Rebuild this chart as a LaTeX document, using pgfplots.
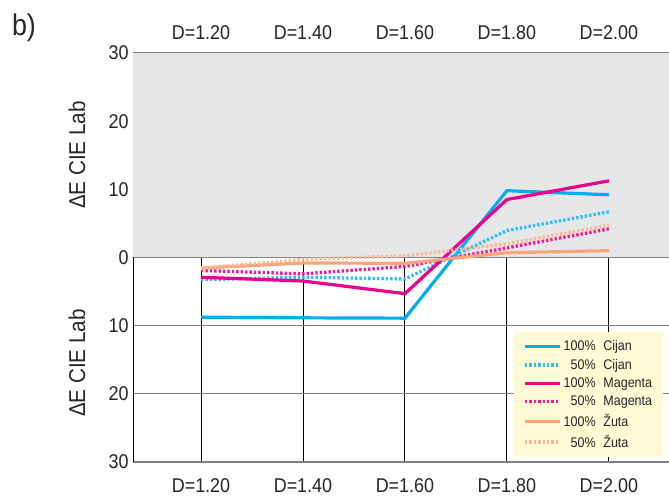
\documentclass[border=0pt]{standalone}
\usepackage{pgfplots}
\pgfplotsset{compat=1.18}
\usepackage{pgfplotstable}
\usepackage{fontspec}
\setmainfont{Liberation Sans}[FakeStretch=0.9]
\definecolor{cyanS}{RGB}{0,174,239}
\definecolor{cyanD}{RGB}{45,190,242}
\definecolor{magS}{RGB}{236,0,140}
\definecolor{magD}{RGB}{238,30,145}
\definecolor{zutS}{RGB}{248,165,125}
\definecolor{zutD}{RGB}{250,185,150}
\definecolor{bgGray}{RGB}{230,231,232}
\definecolor{legY}{RGB}{255,250,214}
\definecolor{gridG}{RGB}{128,128,128}

\pgfplotstableread{
x c100 c50 m100 m50 z100 z50
0 -8.75 -3.25 -2.9 -1.9 -1.55 -1.55
1 -8.85 -2.9 -3.45 -2.4 -0.8 -0.28
2 -8.9 -3.15 -5.3 -1.32 -0.85 0.25
3 9.8 3.95 8.5 1.4 0.7 2.0
4 9.2 6.7 11.25 4.2 1.0 4.75
}\datatab

\begin{document}
\begin{tikzpicture}
\pgfplotsset{
  dotsty/.style={line width=3.3bp, dash pattern=on 2.4bp off 2.0bp},
  solsty/.style={line width=3.2bp},
}
\begin{axis}[
  set layers,
  at={(133bp,38bp)}, anchor=south west,
  scale only axis, width=536bp, height=409bp,
  xmin=-0.667, xmax=4.59, ymin=-30, ymax=30,
  xtick={0,1,2,3,4},
  xticklabels={D=1.20,D=1.40,D=1.60,D=1.80,D=2.00},
  ytick={-30,-20,-10,0,10,20,30},
  yticklabels={30,20,10,0,10,20,30},
  /pgf/number format/assume math mode=true,
  major tick length=0pt,
  axis x line*=bottom, axis y line*=left, separate axis lines,
  x axis line style={draw=none},
  y axis line style={-, black, line width=1bp},
  xmajorgrids, ymajorgrids,
  x grid style={black, line width=0.9bp},
  y grid style={gridG, line width=1.3bp},
  tick label style={font=\fontsize{20}{24}\selectfont, text=black!85},
  xticklabel style={yshift=-13bp},
  yticklabel style={xshift=-1bp},
  clip=false,
  legend style={at={(rel axis cs:0.711,0.012)}, anchor=south west,
    fill=legY, draw=none, font=\fontsize{14}{16}\selectfont,
    inner xsep=9bp, inner ysep=6bp, row sep=3.1bp, text=black!85},
  legend cell align=left,
  legend image code/.code={\draw[#1] (0bp,0bp) -- (35bp,0bp);},
]
\fill[bgGray, on layer=axis background] (axis cs:-0.667,0) rectangle (axis cs:4.59,30);
\addplot[solsty, cyanS] table[x=x,y=c100]{\datatab};
\addlegendentry{\makebox[2.3em][r]{100\%}\hspace{0.55em}Cijan}
\addplot[dotsty, cyanD] table[x=x,y=c50]{\datatab};
\addlegendentry{\makebox[2.3em][r]{50\%}\hspace{0.55em}Cijan}
\addplot[solsty, magS] table[x=x,y=m100]{\datatab};
\addlegendentry{\makebox[2.3em][r]{100\%}\hspace{0.55em}Magenta\hspace{14bp}}
\addplot[dotsty, magD] table[x=x,y=m50]{\datatab};
\addlegendentry{\makebox[2.3em][r]{50\%}\hspace{0.55em}Magenta\hspace{14bp}}
\addplot[solsty, zutS] table[x=x,y=z100]{\datatab};
\addlegendentry{\makebox[2.3em][r]{100\%}\hspace{0.55em}Žuta}
\addplot[dotsty, zutD] table[x=x,y=z50]{\datatab};
\addlegendentry{\makebox[2.3em][r]{50\%}\hspace{0.55em}Žuta}
\end{axis}
\begin{axis}[
  at={(133bp,38bp)}, anchor=south west,
  scale only axis, width=536bp, height=409bp,
  xmin=-0.667, xmax=4.59, ymin=-30, ymax=30,
  xtick={0,1,2,3,4},
  xticklabels={D=1.20,D=1.40,D=1.60,D=1.80,D=2.00},
  /pgf/number format/assume math mode=true,
  major tick length=0pt,
  axis x line*=top, separate axis lines,
  x axis line style={draw=none},
  hide y axis,
  tick label style={font=\fontsize{20}{24}\selectfont, text=black!85},
  xticklabel style={yshift=10bp},
]
\end{axis}
\node[rotate=90, font=\fontsize{23}{26}\selectfont, text=black!85] at (77bp,345bp) {ΔE CIE Lab};
\node[rotate=90, font=\fontsize{23}{26}\selectfont, text=black!85] at (77bp,137bp) {ΔE CIE Lab};
\node[font=\fontsize{30}{34}\selectfont, text=black!85] at (24bp,472bp) {b)};
\pgfresetboundingbox
\path (0bp,0bp) rectangle (669bp,500bp);
\end{tikzpicture}
\end{document}
